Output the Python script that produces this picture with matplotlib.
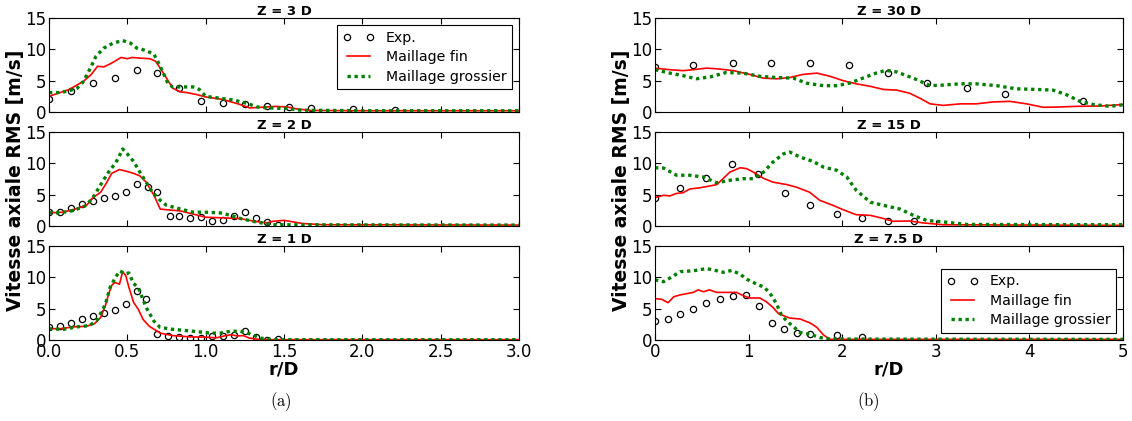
import matplotlib
matplotlib.use("Agg")
import matplotlib.pyplot as plt
import numpy as np

plt.rcParams["font.family"] = ["DejaVu Sans"]
plt.rcParams["mathtext.fontset"] = "cm"

# ---------------- (a) left column ----------------
# Z = 3 D
r_exp_3 = [0.0, 0.14, 0.28, 0.42, 0.56, 0.69, 0.83, 0.97, 1.11, 1.25, 1.39, 1.53, 1.67, 1.94, 2.21]
v_exp_3 = [2.1, 3.3, 4.7, 5.4, 6.65, 6.3, 3.8, 1.8, 1.45, 1.2, 0.9, 0.75, 0.7, 0.4, 0.35]
r_fin_3 = [0.0, 0.13, 0.22, 0.27, 0.31, 0.35, 0.40, 0.46, 0.50, 0.53, 0.58, 0.645, 0.68, 0.71, 0.75,
           0.79, 0.84, 0.88, 0.94, 1.0, 1.11, 1.22, 1.28, 1.39, 1.45, 1.52, 1.58, 1.67, 2.0, 3.0]
v_fin_3 = [2.5, 3.6, 4.9, 6.0, 7.3, 7.2, 7.8, 8.7, 8.5, 8.7, 8.6, 8.5, 8.1, 7.0, 5.4,
           3.8, 3.2, 3.1, 2.8, 2.4, 2.0, 1.2, 0.65, 0.8, 0.9, 0.8, 0.5, 0.25, 0.2, 0.2]
r_gro_3 = [0.0, 0.07, 0.13, 0.18, 0.22, 0.26, 0.30, 0.35, 0.41, 0.47, 0.52, 0.56, 0.62, 0.67, 0.70,
           0.73, 0.76, 0.79, 0.86, 0.92, 0.96, 1.0, 1.09, 1.18, 1.26, 1.33, 1.41, 1.52, 1.6, 2.0, 3.0]
v_gro_3 = [3.1, 3.1, 3.4, 3.8, 4.9, 6.8, 8.9, 10.2, 11.0, 11.4, 11.0, 10.2, 9.8, 9.2, 7.8,
           6.2, 4.5, 4.0, 4.0, 4.0, 3.6, 2.5, 2.2, 1.9, 1.4, 0.8, 0.65, 0.55, 0.3, 0.2, 0.2]

# Z = 2 D
r_exp_2 = [0.0, 0.07, 0.14, 0.21, 0.28, 0.35, 0.42, 0.49, 0.56, 0.63, 0.69, 0.77, 0.83, 0.90,
           0.97, 1.04, 1.11, 1.18, 1.25, 1.32, 1.39, 1.46]
v_exp_2 = [2.2, 2.2, 2.8, 3.5, 4.0, 4.4, 4.8, 5.4, 6.65, 6.3, 5.4, 1.6, 1.55, 1.2,
           1.4, 0.75, 0.95, 1.6, 2.2, 1.2, 0.6, 0.1]
r_fin_2 = [0.0, 0.09, 0.18, 0.24, 0.28, 0.33, 0.37, 0.40, 0.45, 0.50, 0.54, 0.58, 0.62, 0.67, 0.71,
           0.75, 0.84, 0.92, 1.0, 1.11, 1.22, 1.30, 1.39, 1.43, 1.50, 1.56, 1.62, 1.75, 3.0]
v_fin_2 = [2.1, 2.2, 2.8, 3.3, 4.5, 5.4, 7.0, 8.4, 9.0, 8.7, 8.4, 8.0, 7.0, 4.9, 2.7,
           2.6, 2.4, 1.9, 1.4, 1.3, 1.2, 0.8, 0.5, 0.75, 0.9, 0.65, 0.4, 0.2, 0.15]
r_gro_2 = [0.0, 0.07, 0.16, 0.24, 0.29, 0.34, 0.38, 0.42, 0.44, 0.47, 0.50, 0.54, 0.58, 0.62, 0.66,
           0.71, 0.75, 0.84, 0.92, 1.0, 1.09, 1.16, 1.22, 1.33, 1.43, 3.0]
v_gro_2 = [2.1, 2.1, 2.5, 3.3, 4.9, 7.0, 8.6, 9.9, 10.7, 12.3, 11.5, 10.3, 8.6, 7.0, 5.4,
           4.1, 3.3, 2.7, 2.2, 2.2, 2.1, 1.7, 1.2, 0.6, 0.2, 0.15]

# Z = 1 D
r_exp_1 = [0.0, 0.07, 0.14, 0.21, 0.28, 0.35, 0.42, 0.49, 0.56, 0.62, 0.69, 0.76, 0.83, 0.90,
           0.97, 1.04, 1.11, 1.18, 1.25, 1.32, 1.39, 1.46]
v_exp_1 = [2.0, 2.3, 2.75, 3.3, 3.9, 4.3, 4.8, 5.8, 7.8, 6.5, 0.9, 0.6, 0.4, 0.3,
           0.35, 0.6, 0.65, 0.8, 1.5, 0.5, 0.0, 0.1]
r_fin_1 = [0.0, 0.07, 0.16, 0.24, 0.29, 0.33, 0.36, 0.38, 0.40, 0.42, 0.45, 0.47, 0.49, 0.51, 0.54,
           0.57, 0.60, 0.64, 0.71, 0.79, 0.90, 1.0, 1.07, 1.11, 1.16, 1.20, 1.24, 1.28, 1.35, 3.0]
v_fin_1 = [1.8, 1.8, 2.1, 2.2, 2.6, 3.6, 5.5, 7.3, 8.7, 9.2, 8.9, 10.9, 10.3, 8.4, 6.0,
           4.9, 3.3, 2.2, 1.1, 0.7, 0.5, 0.45, 0.35, 0.6, 0.85, 0.65, 0.7, 0.3, 0.05, 0.05]
r_gro_1 = [0.0, 0.09, 0.18, 0.26, 0.31, 0.36, 0.39, 0.42, 0.45, 0.49, 0.51, 0.54, 0.57, 0.59, 0.62,
           0.67, 0.71, 0.79, 0.92, 1.03, 1.09, 1.16, 1.22, 1.28, 1.35, 1.43, 3.0]
v_gro_1 = [1.8, 1.7, 2.1, 2.3, 3.3, 5.7, 8.4, 9.8, 11.0, 10.6, 10.7, 9.0, 8.4, 7.1, 5.2,
           3.0, 2.0, 1.7, 1.4, 1.1, 1.1, 1.4, 1.4, 1.0, 0.3, 0.05, 0.05]

# ---------------- (b) right column ----------------
# Z = 30 D
r_exp_30 = [0.0, 0.41, 0.83, 1.24, 1.66, 2.07, 2.49, 2.91, 3.33, 3.74, 4.57]
v_exp_30 = [7.2, 7.55, 7.8, 7.8, 7.8, 7.45, 6.3, 4.7, 3.8, 2.8, 1.8]
r_fin_30 = [0.0, 0.16, 0.30, 0.41, 0.55, 0.66, 0.84, 1.01, 1.16, 1.30, 1.44, 1.58, 1.73, 1.87, 2.01,
            2.15, 2.30, 2.44, 2.58, 2.72, 2.83, 2.94, 3.08, 3.26, 3.43, 3.61, 3.79, 3.97, 4.15, 4.32,
            4.50, 4.75, 5.0]
v_fin_30 = [7.0, 6.75, 6.6, 6.75, 7.0, 6.9, 6.6, 6.0, 5.4, 5.3, 5.5, 6.0, 6.2, 5.7, 5.0,
            4.5, 4.1, 3.6, 3.5, 3.0, 2.2, 1.3, 1.05, 1.3, 1.3, 1.6, 1.7, 1.3, 0.75, 0.8,
            0.9, 0.95, 1.2]
r_gro_30 = [0.0, 0.16, 0.30, 0.44, 0.59, 0.76, 0.94, 1.12, 1.30, 1.48, 1.62, 1.80, 1.94, 2.08, 2.22,
            2.36, 2.47, 2.58, 2.76, 2.94, 3.08, 3.26, 3.43, 3.65, 3.86, 4.07, 4.25, 4.39, 4.54, 4.68,
            4.86, 5.0]
v_gro_30 = [6.75, 6.2, 5.8, 5.3, 5.6, 6.3, 6.2, 5.7, 5.5, 5.4, 4.6, 4.2, 4.2, 4.6, 5.4,
            6.2, 6.65, 6.4, 5.4, 4.2, 4.3, 4.5, 4.5, 4.2, 3.7, 3.6, 3.5, 2.8, 1.7, 1.2,
            0.9, 1.15]

# Z = 15 D
r_exp_15 = [0.0, 0.27, 0.54, 0.82, 1.10, 1.39, 1.66, 1.94, 2.21, 2.49, 2.77]
v_exp_15 = [4.5, 6.05, 7.6, 9.9, 8.35, 5.2, 3.4, 1.9, 1.2, 0.8, 0.75]
r_fin_15 = [0.0, 0.09, 0.16, 0.23, 0.30, 0.37, 0.48, 0.59, 0.66, 0.73, 0.80, 0.91, 0.98, 1.05, 1.16,
            1.26, 1.41, 1.51, 1.65, 1.76, 1.90, 2.01, 2.15, 2.30, 2.44, 2.54, 2.72, 2.86, 3.08, 5.0]
v_fin_15 = [4.5, 4.9, 4.8, 5.2, 5.3, 5.9, 6.1, 6.4, 6.6, 7.6, 8.6, 9.3, 9.15, 8.6, 7.6,
            7.0, 6.6, 6.2, 5.4, 4.1, 3.3, 2.6, 1.8, 1.7, 1.2, 0.75, 0.8, 0.5, 0.2, 0.1]
r_gro_15 = [0.0, 0.09, 0.23, 0.37, 0.52, 0.66, 0.80, 0.94, 1.05, 1.16, 1.26, 1.37, 1.44, 1.55, 1.69,
            1.80, 1.94, 2.05, 2.15, 2.30, 2.44, 2.62, 2.76, 2.90, 3.08, 3.33, 5.0]
v_gro_15 = [9.3, 9.25, 8.1, 8.1, 7.8, 6.9, 7.3, 7.55, 7.55, 8.6, 10.2, 11.5, 11.8, 11.0, 10.3,
            9.4, 8.9, 7.8, 5.7, 3.8, 3.3, 2.7, 1.7, 0.9, 0.65, 0.25, 0.2]

# Z = 7.5 D
r_exp_75 = [0.0, 0.135, 0.27, 0.41, 0.55, 0.69, 0.83, 0.97, 1.11, 1.25, 1.38, 1.52, 1.66, 1.94, 2.21]
v_exp_75 = [3.1, 3.35, 4.2, 5.0, 5.9, 6.6, 7.1, 7.2, 5.4, 2.65, 1.8, 1.15, 0.9, 0.8, 0.55]
r_fin_75 = [0.0, 0.07, 0.14, 0.20, 0.27, 0.34, 0.41, 0.46, 0.52, 0.58, 0.66, 0.77, 0.87, 0.94, 1.01,
            1.12, 1.19, 1.26, 1.32, 1.37, 1.44, 1.55, 1.66, 1.73, 1.80, 1.87, 5.0]
v_fin_75 = [6.6, 6.5, 5.95, 6.9, 7.2, 7.4, 7.6, 8.0, 7.7, 8.0, 7.6, 7.6, 7.6, 7.1, 6.7,
            6.7, 6.1, 5.2, 4.2, 3.9, 3.5, 3.35, 2.7, 2.0, 0.8, 0.1, 0.1]
r_gro_75 = [0.0, 0.09, 0.16, 0.27, 0.41, 0.55, 0.66, 0.73, 0.82, 0.91, 0.98, 1.09, 1.17, 1.25, 1.30,
            1.35, 1.41, 1.48, 1.55, 1.66, 1.76, 1.87, 5.0]
v_gro_75 = [9.6, 9.3, 9.9, 10.9, 11.05, 11.4, 11.05, 10.8, 11.1, 10.5, 9.7, 8.9, 8.4, 7.0, 5.7,
            4.0, 3.0, 2.1, 1.2, 0.9, 0.4, 0.15, 0.1]

left_panels = [
    ("Z = 3 D", r_exp_3, v_exp_3, r_fin_3, v_fin_3, r_gro_3, v_gro_3),
    ("Z = 2 D", r_exp_2, v_exp_2, r_fin_2, v_fin_2, r_gro_2, v_gro_2),
    ("Z = 1 D", r_exp_1, v_exp_1, r_fin_1, v_fin_1, r_gro_1, v_gro_1),
]
right_panels = [
    ("Z = 30 D", r_exp_30, v_exp_30, r_fin_30, v_fin_30, r_gro_30, v_gro_30),
    ("Z = 15 D", r_exp_15, v_exp_15, r_fin_15, v_fin_15, r_gro_15, v_gro_15),
    ("Z = 7.5 D", r_exp_75, v_exp_75, r_fin_75, v_fin_75, r_gro_75, v_gro_75),
]

W, H = 1132, 421
fig = plt.figure(figsize=(W / 100, H / 100), dpi=100, facecolor="white")

# axes boxes in pixels (top, bottom)
rows_px = [(18, 112), (132, 226), (246, 340)]
cols_px = [(49, 519), (655, 1123)]


def make_ax(col, row):
    x0, x1 = cols_px[col]
    t, b = rows_px[row]
    return fig.add_axes([x0 / W, 1 - b / H, (x1 - x0) / W, (b - t) / H])


def draw_panel(ax, title, re, ve, rf, vf, rg, vg, xmax, xstep, bottom, legend_loc=None):
    ax.plot(re, ve, linestyle="none", marker="o", markersize=4.5, markerfacecolor="none",
            markeredgecolor="black", markeredgewidth=0.9, label="Exp.")
    ax.plot(rf, vf, color="red", linewidth=1.2, label="Maillage fin")
    ax.plot(rg, vg, color="green", linewidth=2.4, dashes=(1, 1.1), dash_capstyle="butt",
            label="Maillage grossier")
    ax.set_xlim(0, xmax)
    ax.set_ylim(0, 15)
    ax.set_yticks([0, 5, 10, 15])
    ax.set_xticks(np.arange(0, xmax + 1e-9, xstep))
    ax.tick_params(direction="in", top=True, right=True, length=4, width=0.8,
                   labelsize=12, pad=2)
    if bottom:
        if xstep < 1:
            ax.set_xticklabels([f"{t:.1f}" for t in np.arange(0, xmax + 1e-9, xstep)])
        ax.set_xlabel("r/D", fontsize=13, fontweight="bold", labelpad=0)
    else:
        ax.set_xticklabels([])
    ax.set_title(title, fontsize=9.5, fontweight="bold", pad=2)
    if legend_loc is not None:
        leg = ax.legend(loc=legend_loc, numpoints=2, fontsize=10.2, fancybox=False,
                        framealpha=1, edgecolor="black", handlelength=2.2,
                        borderaxespad=0.5, labelspacing=0.38)
        leg.get_frame().set_linewidth(0.8)


for i, p in enumerate(left_panels):
    ax = make_ax(0, i)
    draw_panel(ax, *p, xmax=3.0, xstep=0.5, bottom=(i == 2),
               legend_loc="upper right" if i == 0 else None)
for i, p in enumerate(right_panels):
    ax = make_ax(1, i)
    draw_panel(ax, *p, xmax=5, xstep=1, bottom=(i == 2),
               legend_loc="lower right" if i == 2 else None)

ylab = "Vitesse axiale RMS [m/s]"
fig.text(16 / W, 1 - 180 / H, ylab, rotation=90, ha="center", va="center",
         fontsize=13.5, fontweight="bold")
fig.text(622 / W, 1 - 180 / H, ylab, rotation=90, ha="center", va="center",
         fontsize=13.5, fontweight="bold")

fig.text(281 / W, 1 - 402 / H, r"$(\mathrm{a})$", ha="center", va="center", fontsize=12)
fig.text(868 / W, 1 - 402 / H, r"$(\mathrm{b})$", ha="center", va="center", fontsize=12)

fig.savefig("out.png", dpi=100, facecolor="white")
